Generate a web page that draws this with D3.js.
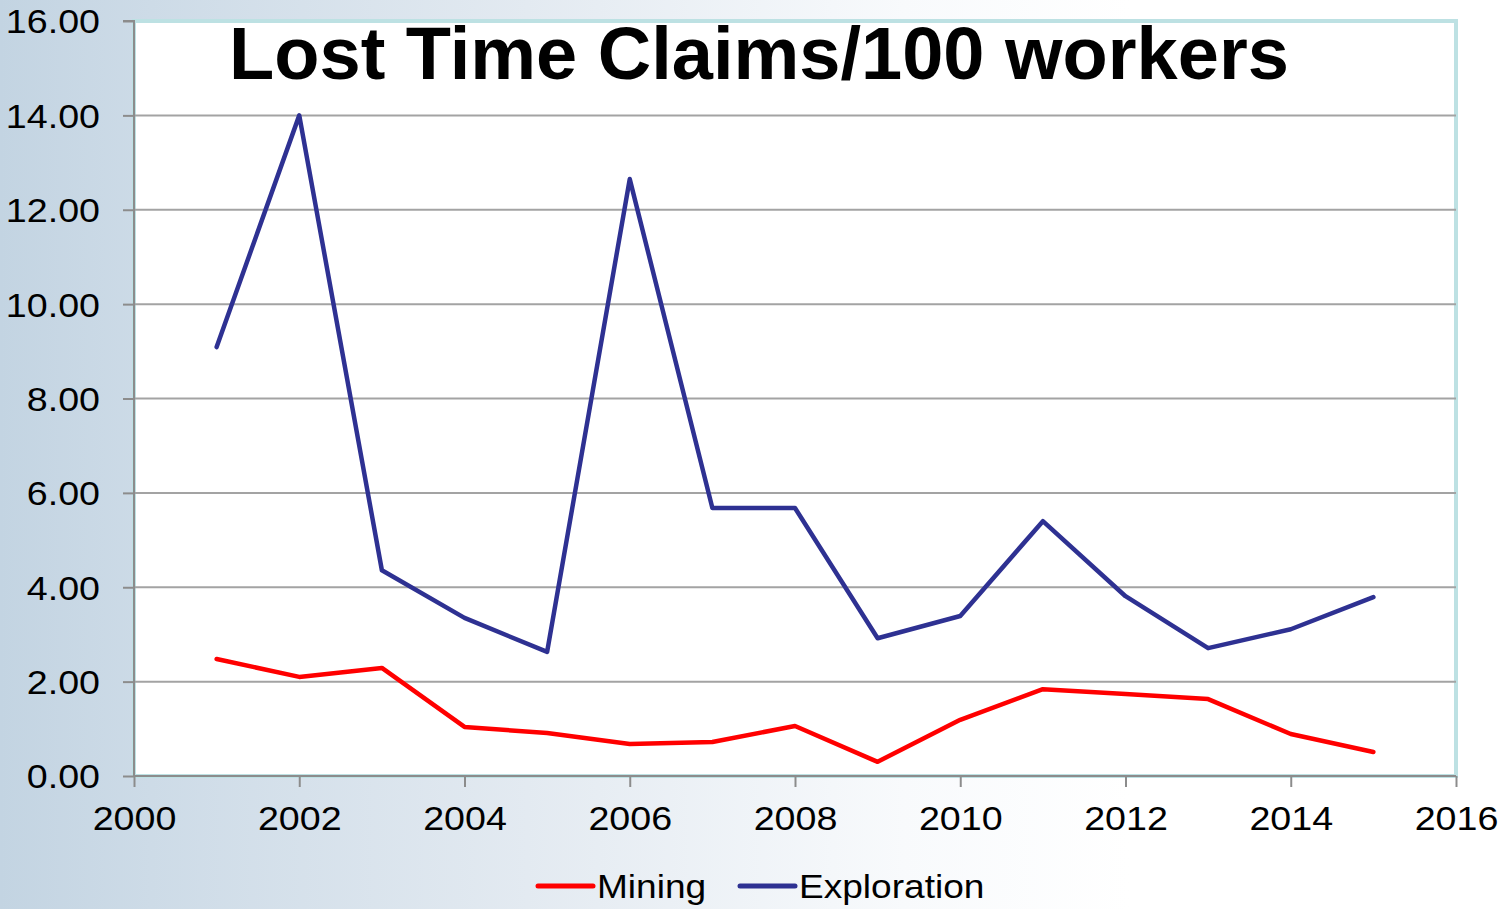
<!DOCTYPE html>
<html><head><meta charset="utf-8">
<script src="https://cdn.jsdelivr.net/npm/d3@7"></script>
<style>
html,body{margin:0;padding:0;overflow:hidden;}
svg{display:block;font-family:"Liberation Sans",Arial,sans-serif;}
</style></head>
<body>
<svg id="chart" width="1506" height="909"></svg>
<script>
const years = [2001,2002,2003,2004,2005,2006,2007,2008,2009,2010,2011,2012,2013,2014,2015];
const mining = [2.48,2.10,2.29,1.04,0.91,0.68,0.72,1.06,0.30,1.19,1.84,1.74,1.63,0.89,0.51];
const exploration = [9.09,14.00,4.36,3.35,2.63,12.65,5.68,5.68,2.92,3.39,5.40,3.81,2.71,3.11,3.79];
const xTicks = [2000,2002,2004,2006,2008,2010,2012,2014,2016];
const yTicks = [0,2,4,6,8,10,12,14,16];
const seriesNames = ["Mining","Exploration"];
const seriesColors = ["#ff0000","#2e3192"];
const title = "Lost Time Claims/100 workers";

const svg = d3.select("#chart");
const W = 1506, H = 909;
const defs = svg.append("defs");
const grad = defs.append("linearGradient").attr("id","bg").attr("x1","0").attr("x2","1").attr("y1","0").attr("y2","0");
grad.append("stop").attr("offset","0").attr("stop-color","#c3d4e2");
grad.append("stop").attr("offset","0.1").attr("stop-color","#cddbe7");
grad.append("stop").attr("offset","0.35").attr("stop-color","#e3eaf1");
grad.append("stop").attr("offset","0.6").attr("stop-color","#f8fafc");
grad.append("stop").attr("offset","0.75").attr("stop-color","#ffffff");
svg.append("rect").attr("width",W).attr("height",H).attr("fill","url(#bg)");

const x = d3.scaleLinear().domain([2000,2016]).range([134,1456]);
const y = d3.scaleLinear().domain([0,16]).range([776,21]);

// stretch text horizontally (reference text is slightly wide)
function stretch(sel, f){
  sel.each(function(){
    const L = this.getComputedTextLength();
    d3.select(this).attr("textLength", L*f).attr("lengthAdjust","spacingAndGlyphs");
  });
}

// plot area
svg.append("rect").attr("x",x(2000)).attr("y",y(16)).attr("width",x(2016)-x(2000)).attr("height",y(0)-y(16))
  .attr("fill","#ffffff").attr("stroke","#bde1e3").attr("stroke-width",4);

// gridlines
svg.append("g").selectAll("line").data(yTicks.filter(d=>d>0 && d<16)).join("line")
  .attr("x1",x(2000)).attr("x2",x(2016)).attr("y1",d=>y(d)).attr("y2",d=>y(d))
  .attr("stroke","#a3a3a3").attr("stroke-width",2);

// y axis
const yAxis = d3.axisLeft(y).tickValues(yTicks).tickSize(11).tickPadding(23).tickFormat(d3.format(".2f"));
const gy = svg.append("g").attr("transform",`translate(${x(2000)},0)`).call(yAxis);
gy.select(".domain").attr("stroke","#8c8c8c").attr("stroke-width",2).attr("d",`M-11,${y(16)}H0V${y(0)}`);
gy.selectAll(".tick line").attr("stroke","#8c8c8c").attr("stroke-width",2);
gy.selectAll(".tick text").attr("font-size",33).attr("fill","#000").attr("font-family","Liberation Sans, Arial, sans-serif").attr("dy","0.36em");
stretch(gy.selectAll(".tick text"), 1.14);

// x axis
const xAxis = d3.axisBottom(x).tickValues(xTicks).tickSize(11).tickPadding(20).tickFormat(d3.format("d"));
const gx = svg.append("g").attr("transform",`translate(0,${y(0)})`).call(xAxis);
gx.select(".domain").attr("stroke","#8c8c8c").attr("stroke-width",2).attr("d",`M${x(2000)},0H${x(2016)}`);
gx.selectAll(".tick line").attr("stroke","#8c8c8c").attr("stroke-width",2);
gx.selectAll(".tick text").attr("font-size",33).attr("fill","#000").attr("font-family","Liberation Sans, Arial, sans-serif");
stretch(gx.selectAll(".tick text"), 1.14);

// lines
const line = d3.line().x((d,i)=>x(years[i])).y(d=>y(d));
[mining, exploration].forEach((s,k)=>{
  svg.append("path").datum(s).attr("d",line).attr("fill","none")
    .attr("stroke",seriesColors[k]).attr("stroke-width",4.5)
    .attr("stroke-linejoin","round").attr("stroke-linecap","round");
});

// title
svg.append("text").attr("x",759).attr("y",79).attr("text-anchor","middle")
  .attr("font-size",74).attr("font-weight","bold").attr("fill","#000").text(title);

// legend
const legendX = [538, 740];
seriesNames.forEach((n,k)=>{
  const g = svg.append("g");
  g.append("line").attr("x1",legendX[k]).attr("x2",legendX[k]+55).attr("y1",886).attr("y2",886)
    .attr("stroke",seriesColors[k]).attr("stroke-width",5).attr("stroke-linecap","round");
  const t = g.append("text").attr("x",legendX[k]+59).attr("y",898).attr("font-size",34).attr("fill","#000").text(n);
  stretch(t, 1.09);
});
</script>
</body></html>
